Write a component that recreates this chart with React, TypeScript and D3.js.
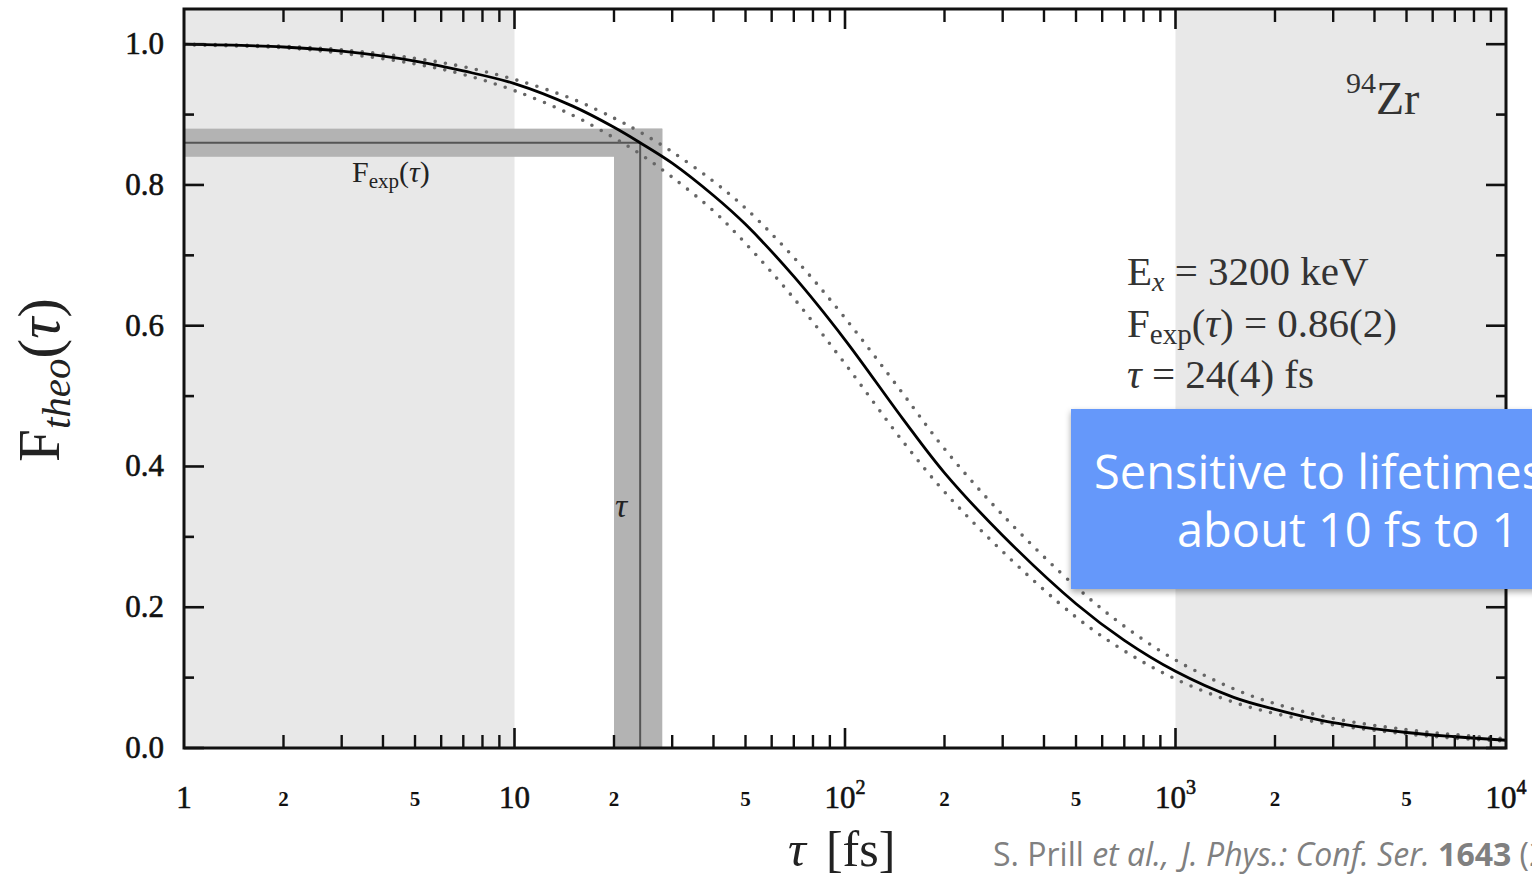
import React from "react";
import * as d3 from "d3";

// ---- data ----
const TAU = [1, 2, 3, 5, 7, 10, 15, 20, 24, 30, 40, 50, 70, 100, 150, 200, 300, 500, 700, 1000, 1500, 2000, 3000, 5000, 7000, 10000];
const F_THEO = [1.0, 0.996, 0.99, 0.976, 0.962, 0.944, 0.912, 0.882, 0.86, 0.831, 0.785, 0.744, 0.67, 0.58, 0.467, 0.391, 0.302, 0.205, 0.153, 0.109, 0.072, 0.055, 0.036, 0.022, 0.016, 0.011];
const F_UPPER = [1.0, 0.997, 0.992, 0.98, 0.968, 0.95, 0.922, 0.895, 0.875, 0.847, 0.805, 0.767, 0.697, 0.611, 0.503, 0.425, 0.331, 0.229, 0.173, 0.125, 0.084, 0.063, 0.042, 0.026, 0.019, 0.013];
const F_LOWER = [0.999, 0.995, 0.987, 0.972, 0.957, 0.934, 0.899, 0.867, 0.844, 0.811, 0.763, 0.717, 0.639, 0.546, 0.435, 0.364, 0.279, 0.186, 0.138, 0.098, 0.065, 0.049, 0.033, 0.02, 0.014, 0.01];

const F_EXP = [0.84, 0.86, 0.88]; // low, value, high
const TAU_EXP = [20, 24, 28]; // low, value, high
const SHADE_RANGES = [[1, 10], [1000, 10000]];

const Y_MAJOR = [0, 0.2, 0.4, 0.6, 0.8, 1.0];
const Y_MINOR = [0.1, 0.3, 0.5, 0.7, 0.9];
const Y_LABELS = ["0.0", "0.2", "0.4", "0.6", "0.8", "1.0"];
const X_DECADES = [1, 10, 100, 1000, 10000];
const X_DECADE_LABELS = [
  { base: "1", sup: "" },
  { base: "10", sup: "" },
  { base: "10", sup: "2" },
  { base: "10", sup: "3" },
  { base: "10", sup: "4" },
];
const X_SMALL = [2, 5, 20, 50, 200, 500, 2000, 5000];
const X_SMALL_LABELS = ["2", "5", "2", "5", "2", "5", "2", "5"];

const INFO_LINES = ["E", "F", "τ"];

const W = 1532;
const H = 879;
const L = 184, R = 1506, T = 9, B = 748;
const SERIF = "'Liberation Serif', 'Times New Roman', serif";
const SANS = "'Open Sans', sans-serif";

export default function App() {
  const x = d3.scaleLog().domain([1, 1e4]).range([L, R]);
  const y = d3.scaleLinear().domain([0, 1.05]).range([B, T]);
  const line = d3
    .line<number>()
    .x((_, i) => x(TAU[i]))
    .y((d) => y(d))
    .curve(d3.curveCatmullRom.alpha(0.5));

  const allX = x.ticks();
  const minorX = allX.filter((v) => !X_DECADES.some((d) => Math.abs(d - v) < 1e-9));

  const band = "#b3b3b3";
  const shade = "#e8e8e8";

  return (
    <svg
      width={W}
      height={H}
      style={{ position: "fixed", left: 0, top: 0, display: "block", background: "#fff" }}
    >
      <defs>
        <filter id="sh" x="-10%" y="-10%" width="130%" height="140%">
          <feDropShadow dx="0" dy="3" stdDeviation="3" floodColor="#000" floodOpacity="0.35" />
        </filter>
        <clipPath id="plot">
          <rect x={L} y={T} width={R - L} height={B - T} />
        </clipPath>
      </defs>

      {/* shaded insensitive regions */}
      {SHADE_RANGES.map(([a, b], i) => (
        <rect key={i} x={x(a)} y={T} width={x(b) - x(a)} height={B - T} fill={shade} />
      ))}

      {/* experimental bands */}
      <rect x={x(1)} y={y(F_EXP[2])} width={x(TAU_EXP[2]) - x(1)} height={y(F_EXP[0]) - y(F_EXP[2])} fill={band} />
      <rect x={x(TAU_EXP[0])} y={y(F_EXP[2])} width={x(TAU_EXP[2]) - x(TAU_EXP[0])} height={y(0) - y(F_EXP[2])} fill={band} />
      <line x1={x(1)} x2={x(TAU_EXP[1])} y1={y(F_EXP[1])} y2={y(F_EXP[1])} stroke="#555" strokeWidth={2} />
      <line x1={x(TAU_EXP[1])} x2={x(TAU_EXP[1])} y1={y(F_EXP[1])} y2={y(0)} stroke="#555" strokeWidth={2} />

      {/* curves */}
      <g clipPath="url(#plot)">
        <path d={line(F_UPPER) || ""} fill="none" stroke="#666" strokeWidth={3.6} strokeDasharray="0 10.5" strokeLinecap="round" />
        <path d={line(F_LOWER) || ""} fill="none" stroke="#666" strokeWidth={3.6} strokeDasharray="0 10.5" strokeLinecap="round" />
        <path d={line(F_THEO) || ""} fill="none" stroke="#000" strokeWidth={2.8} />
      </g>

      {/* frame */}
      <rect x={L} y={T} width={R - L} height={B - T} fill="none" stroke="#111" strokeWidth={3} />

      {/* x ticks (bottom and top) */}
      {X_DECADES.slice(1, -1).map((v) => (
        <g key={"xd" + v} stroke="#111" strokeWidth={2.6}>
          <line x1={x(v)} x2={x(v)} y1={B} y2={B - 20} />
          <line x1={x(v)} x2={x(v)} y1={T} y2={T + 20} />
        </g>
      ))}
      {minorX.map((v) => (
        <g key={"xm" + v} stroke="#111" strokeWidth={2.4}>
          <line x1={x(v)} x2={x(v)} y1={B} y2={B - 13} />
          <line x1={x(v)} x2={x(v)} y1={T} y2={T + 13} />
        </g>
      ))}
      {/* y ticks (left and right) */}
      {Y_MAJOR.map((v) => (
        <g key={"ym" + v} stroke="#111" strokeWidth={2.6}>
          <line x1={L} x2={L + 20} y1={y(v)} y2={y(v)} />
          <line x1={R} x2={R - 20} y1={y(v)} y2={y(v)} />
        </g>
      ))}
      {Y_MINOR.map((v) => (
        <g key={"yn" + v} stroke="#111" strokeWidth={2.6}>
          <line x1={L} x2={L + 10} y1={y(v)} y2={y(v)} />
          <line x1={R} x2={R - 10} y1={y(v)} y2={y(v)} />
        </g>
      ))}

      {/* y tick labels */}
      {Y_MAJOR.map((v, i) => (
        <text key={"yl" + v} x={164} y={y(v) + 10} textAnchor="end" fontFamily={SERIF} fontSize={31} fill="#111" stroke="#111" strokeWidth={0.6}>
          {Y_LABELS[i]}
        </text>
      ))}

      {/* x tick labels */}
      {X_DECADES.map((v, i) => (
        <text key={"xl" + v} x={x(v)} y={808} textAnchor="middle" fontFamily={SERIF} fontSize={31} fill="#111" stroke="#111" strokeWidth={0.6}>
          {X_DECADE_LABELS[i].base}
          {X_DECADE_LABELS[i].sup ? (
            <tspan dy={-14} fontSize={20}>{X_DECADE_LABELS[i].sup}</tspan>
          ) : null}
        </text>
      ))}
      {X_SMALL.map((v, i) => (
        <text key={"xs" + v} x={x(v)} y={806} textAnchor="middle" fontFamily={SERIF} fontSize={21} fontWeight="bold" fill="#111">
          {X_SMALL_LABELS[i]}
        </text>
      ))}

      {/* axis titles */}
      <text transform="translate(59,380) rotate(-90)" textAnchor="middle" fontFamily={SERIF} fontSize={59} fill="#222">
        F
        <tspan fontStyle="italic" fontSize={41} dy={11}>theo</tspan>
        <tspan dy={-11}>(</tspan>
        <tspan fontStyle="italic">τ</tspan>
        <tspan>)</tspan>
      </text>
      <text x={788} y={866} fontFamily={SERIF} fontSize={50} fill="#222">
        <tspan fontStyle="italic">τ</tspan>
        <tspan dx={20}>[fs]</tspan>
      </text>

      {/* in-plot labels */}
      <text x={352} y={182} fontFamily={SERIF} fontSize={30} fill="#222">
        F<tspan fontSize={21} dy={6}>exp</tspan>
        <tspan dy={-6}>(</tspan>
        <tspan fontStyle="italic">τ</tspan>)
      </text>
      <text x={615} y={517} fontFamily={SERIF} fontSize={34} fontStyle="italic" fill="#222">
        τ
      </text>
      <text x={1346} y={93} fontFamily={SERIF} fontSize={30} fill="#333">
        94<tspan fontSize={46} dy={21}>Zr</tspan>
      </text>
      <g fontFamily={SERIF} fontSize={41} fill="#333">
        <text x={1127} y={285}>
          {INFO_LINES[0]}
          <tspan fontStyle="italic" fontSize={28} dy={6}>x</tspan>
          <tspan dy={-6}> = 3200 keV</tspan>
        </text>
        <text x={1127} y={337}>
          {INFO_LINES[1]}
          <tspan fontSize={29} dy={7}>exp</tspan>
          <tspan dy={-7}>(</tspan>
          <tspan fontStyle="italic">τ</tspan>
          <tspan>) = 0.86(2)</tspan>
        </text>
        <text x={1127} y={388}>
          <tspan fontStyle="italic">{INFO_LINES[2]}</tspan>
          <tspan> = 24(4) fs</tspan>
        </text>
      </g>

      {/* callout box */}
      <rect x={1071} y={409} width={520} height={180} fill="#6598fa" filter="url(#sh)" />
      <text x={1094} y={489} fontFamily={SANS} fontSize={47} fill="#fff">
        Sensitive to lifetimes from
      </text>
      <text x={1177} y={547} fontFamily={SANS} fontSize={47} fill="#fff">
        about 10 fs to 1 ps
      </text>

      {/* citation */}
      <text x={993} y={866} fontFamily={SANS} fontSize={32} fill="#808080">
        S. Prill <tspan fontStyle="italic">et al.,</tspan>
        <tspan fontStyle="italic" dx={12}>J. Phys.: Conf. Ser.</tspan>{" "}
        <tspan fontWeight="bold">1643</tspan> (2020) 012159
      </text>
    </svg>
  );
}
